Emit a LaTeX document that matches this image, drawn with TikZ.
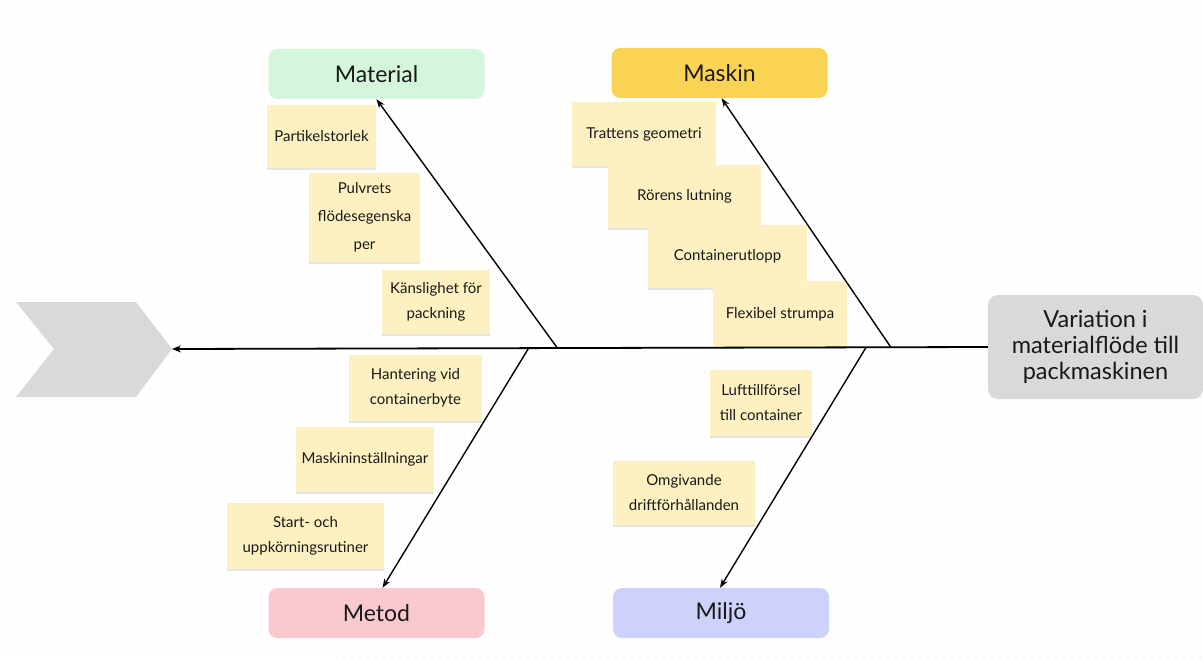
\documentclass[tikz,border=0pt]{standalone}
\usepackage{fontspec}
\setmainfont{Lato}
\usetikzlibrary{arrows.meta,shadows,patterns.meta}
\definecolor{matgreen}{RGB}{212,247,220}
\definecolor{maskyellow}{RGB}{251,211,82}
\definecolor{metpink}{RGB}{249,201,207}
\definecolor{miljlav}{RGB}{206,209,249}
\definecolor{sticky}{RGB}{253,241,194}
\definecolor{lgray}{RGB}{217,217,217}
\definecolor{ink}{RGB}{25,25,25}
\tikzset{
  catbox/.style={rounded corners=9pt, minimum width=216pt, minimum height=50pt, inner sep=0pt,
    font=\fontsize{23}{27}\selectfont, text=ink},
  note/.style={fill=sticky, inner sep=0pt, align=center, text=ink,
    font=\fontsize{15}{25}\selectfont,
    drop shadow={shadow xshift=0pt, shadow yshift=-1.5pt, opacity=0.10, fill=black}},
  spine/.style={line width=1.8pt, draw=black},
  bone/.style={line width=1.4pt, draw=black, -{Stealth[length=9pt,width=6.5pt]}},
}
\begin{document}
\begin{tikzpicture}[x=1pt,y=-1pt]
\useasboundingbox (0,0) rectangle (1203,661);
\fill[white] (0,0) rectangle (1203,661);
\fill[pattern={Dots[distance=8pt,radius=0.5pt]}, pattern color=black!15] (0,0) rectangle (1203,661);

% head chevron (tail)
\fill[lgray] (16,302) -- (136,302) -- (172,349) -- (136,397) -- (16,397) -- (54,349) -- cycle;
\coordinate (tip) at (172,349);

% effect box
\node[fill=lgray, rounded corners=10pt, minimum width=215pt, minimum height=104pt, inner sep=0pt,
  align=center, text=ink, font=\fontsize{23.5}{26}\selectfont] (effect) at (1095.5,347)
  {Variation i\\materialflöde till\\packmaskinen};

% category boxes
\node[catbox, fill=matgreen] (material) at (376.5,74) {Material};
\node[catbox, fill=maskyellow] (maskin) at (719.5,73) {Maskin};
\node[catbox, fill=metpink] (metod) at (376.5,613) {Metod};
\node[catbox, fill=miljlav] (miljo) at (721,613) {Miljö};

% sticky notes
\node[note, minimum width=109pt, minimum height=63pt] (n1) at (321.5,136.5) {Partikelstorlek};
\node[note, minimum width=111pt, minimum height=89pt, font=\fontsize{15}{28}\selectfont] (n2) at (364.5,217.5) {Pulvrets\\flödesegenska\\per};
\node[note, minimum width=108pt, minimum height=64pt] (n3) at (436,302) {Känslighet för\\packning};
\node[note, minimum width=144pt, minimum height=64pt] (n4) at (644,134) {Trattens geometri};
\node[note, minimum width=153pt, minimum height=63pt] (n5) at (684.5,196.5) {Rörens lutning};
\node[note, minimum width=159pt, minimum height=63pt] (n6) at (727.5,256.5) {Containerutlopp};
\node[note, minimum width=134pt, minimum height=66pt] (n7) at (780,314) {Flexibel strumpa};
\node[note, minimum width=133pt, minimum height=66pt] (n8) at (415.5,388) {Hantering vid\\containerbyte};
\node[note, minimum width=138pt, minimum height=65pt] (n9) at (365,459.5) {Maskininställningar};
\node[note, minimum width=157pt, minimum height=66pt] (n10) at (305.5,536) {Start- och\\uppkörningsrutiner};
\node[note, minimum width=102pt, minimum height=66pt] (n11) at (761,403) {Lufttillförsel\\till container};
\node[note, minimum width=142pt, minimum height=64pt] (n12) at (684,493) {Omgivande\\driftförhållanden};

% junctions on spine
\coordinate (jmat) at (557,347.5);
\coordinate (jmet) at (529,347.5);
\coordinate (jmas) at (891,347.5);
\coordinate (jmil) at (866,347.5);

% spine
\draw[spine, -{Stealth[length=9pt,width=7pt]}] (effect.west) -- (tip);

% bones
\draw[bone] (jmat) -- (material.south);
\draw[bone] (jmas) -- ([xshift=2pt]maskin.south);
\draw[bone] (jmet) -- ([xshift=6pt]metod.north);
\draw[bone] (jmil) -- ([xshift=-1pt]miljo.north);
\end{tikzpicture}
\end{document}
